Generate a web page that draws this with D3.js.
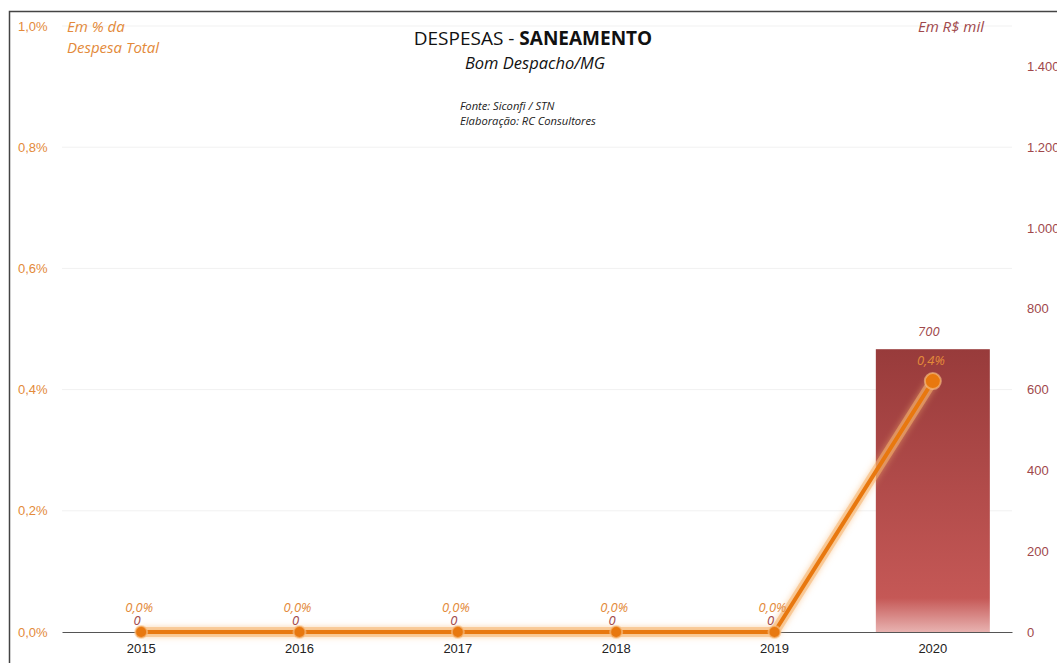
<!DOCTYPE html>
<html>
<head>
<meta charset="utf-8">
<script src="https://cdn.jsdelivr.net/npm/d3@7"></script>
<style>
  body { margin: 0; background: #fff; }
  svg { display: block; font-family: "Open Sans", "Noto Sans", sans-serif; }
</style>
</head>
<body>
<svg id="chart" width="1057" height="663"></svg>
<script>
// data
const years = ["2015", "2016", "2017", "2018", "2019", "2020"];
const despesa = [0, 0, 0, 0, 0, 700];          // R$ mil (bars)
const pctTotal = [0, 0, 0, 0, 0, 0.414];        // % da despesa total (line)
const pctLabels = ["0,0%", "0,0%", "0,0%", "0,0%", "0,0%", "0,4%"];
const leftTicks = [0, 0.2, 0.4, 0.6, 0.8, 1.0];
const rightTicks = [0, 200, 400, 600, 800, 1000, 1200, 1400];

const ORANGE = "#e8780f";
const AXIS_ORANGE = "#e38a3a";
const AXIS_WINE = "#a0484b";

const svg = d3.select("#chart");
const plotL = 62, plotR = 1012, plotT = 26, plotB = 632;

// frame
svg.append("rect")
  .attr("x", 9.5).attr("y", 11.5)
  .attr("width", 1100).attr("height", 700)
  .attr("fill", "none").attr("stroke", "#444").attr("stroke-width", 1.5);

const x = d3.scaleBand().domain(years).range([plotL, plotR]).paddingInner(0.28).paddingOuter(0.14);
const yL = d3.scaleLinear().domain([0, 1.0]).range([plotB, plotT]);
const yR = d3.scaleLinear().domain([0, 1500]).range([plotB, plotT]);

const defs = svg.append("defs");
const grad = defs.append("linearGradient").attr("id", "barGrad")
  .attr("x1", 0).attr("x2", 0).attr("y1", 0).attr("y2", 1);
grad.append("stop").attr("offset", "0%").attr("stop-color", "#983b3b");
grad.append("stop").attr("offset", "88%").attr("stop-color", "#c55856");
grad.append("stop").attr("offset", "100%").attr("stop-color", "#e8b2b0");

const glow = defs.append("filter").attr("id", "glow")
  .attr("x", "-20%").attr("y", "-20%").attr("width", "140%").attr("height", "140%");
glow.append("feGaussianBlur").attr("stdDeviation", 3).attr("result", "b");
const fm = glow.append("feMerge");
fm.append("feMergeNode").attr("in", "b");
fm.append("feMergeNode").attr("in", "SourceGraphic");

// gridlines
svg.append("g")
  .selectAll("line")
  .data(leftTicks.slice(1))
  .join("line")
  .attr("x1", plotL).attr("x2", plotR)
  .attr("y1", d => yL(d)).attr("y2", d => yL(d))
  .attr("stroke", "#f1f1f1").attr("stroke-width", 1);

// left axis
const axL = svg.append("g").attr("transform", `translate(${plotL},0)`)
  .call(d3.axisLeft(yL).tickValues(leftTicks).tickSize(0).tickPadding(14)
    .tickFormat(d => d3.format(".1f")(d).replace(".", ",") + "%"));
axL.select(".domain").remove();
axL.selectAll("text").attr("fill", AXIS_ORANGE).attr("font-size", 13)
  .attr("text-anchor", "start").attr("x", -44);

// right axis
const axR = svg.append("g").attr("transform", `translate(${plotR},0)`)
  .call(d3.axisRight(yR).tickValues(rightTicks).tickSize(0).tickPadding(15)
    .tickFormat(d => d3.format(",")(d).replace(/,/g, ".")));
axR.select(".domain").remove();
axR.selectAll("text").attr("fill", AXIS_WINE).attr("font-size", 13);

// bars
svg.append("g")
  .selectAll("rect")
  .data(years.map((y, i) => ({ y, v: despesa[i] })).filter(d => d.v > 0))
  .join("rect")
  .attr("x", d => x(d.y))
  .attr("width", x.bandwidth())
  .attr("y", d => yR(d.v))
  .attr("height", d => yR(0) - yR(d.v))
  .attr("fill", "url(#barGrad)");

// x axis
const axX = svg.append("g").attr("transform", `translate(0,${plotB})`)
  .call(d3.axisBottom(x).tickSize(0).tickPadding(12));
axX.select(".domain").attr("stroke", "#555").attr("stroke-width", 1.2);
axX.selectAll("text").attr("fill", "#222").attr("font-size", 13);

// line
const pts = years.map((y, i) => ({ y, p: pctTotal[i], i }));
const line = d3.line().x(d => x(d.y) + x.bandwidth() / 2).y(d => yL(d.p));
svg.append("path").datum(pts)
  .attr("d", line)
  .attr("fill", "none").attr("stroke", "#f6b26b").attr("stroke-width", 10)
  .attr("stroke-opacity", 0.55).attr("filter", "url(#glow)");
svg.append("path").datum(pts)
  .attr("d", line)
  .attr("fill", "none").attr("stroke", ORANGE).attr("stroke-width", 4)
  .attr("stroke-linejoin", "round");

svg.append("g").selectAll("circle")
  .data(pts)
  .join("circle")
  .attr("cx", d => x(d.y) + x.bandwidth() / 2)
  .attr("cy", d => yL(d.p))
  .attr("r", d => d.p > 0 ? 8 : 6)
  .attr("fill", ORANGE)
  .attr("stroke", "#f8c48e").attr("stroke-width", 2).attr("stroke-opacity", 0.6);

// value labels (bars)
svg.append("g").selectAll("text")
  .data(years.map((y, i) => ({ y, v: despesa[i] })))
  .join("text")
  .attr("x", d => x(d.y) + x.bandwidth() / 2 - 4)
  .attr("y", d => d.v > 0 ? yR(d.v) - 13 : yR(d.v) - 7)
  .attr("text-anchor", "middle")
  .attr("font-size", 13).attr("font-style", "italic")
  .attr("fill", AXIS_WINE)
  .text(d => d3.format(",")(d.v).replace(/,/g, "."));

// pct labels
svg.append("g").selectAll("text")
  .data(pts)
  .join("text")
  .attr("x", d => x(d.y) + x.bandwidth() / 2 - 2)
  .attr("y", d => d.p > 0 ? yL(d.p) - 16 : yL(d.p) - 20)
  .attr("text-anchor", "middle")
  .attr("font-size", 13).attr("font-style", "italic")
  .attr("fill", AXIS_ORANGE)
  .text(d => pctLabels[d.i]);

// titles
const t = svg.append("text").attr("x", 533).attr("y", 45)
  .attr("text-anchor", "middle").attr("font-size", 19).attr("fill", "#111");
t.append("tspan").text("DESPESAS - ");
t.append("tspan").attr("font-weight", "bold").text("SANEAMENTO");
svg.append("text").attr("x", 535).attr("y", 69).attr("text-anchor", "middle")
  .attr("font-size", 16.5).attr("font-style", "italic").attr("fill", "#111")
  .text("Bom Despacho/MG");
svg.append("text").attr("x", 460).attr("y", 110).attr("font-size", 11.2)
  .attr("font-style", "italic").attr("fill", "#222")
  .text("Fonte: Siconfi  / STN");
svg.append("text").attr("x", 460).attr("y", 125).attr("font-size", 11.2)
  .attr("font-style", "italic").attr("fill", "#222")
  .text("Elaboração: RC Consultores");

svg.append("text").attr("x", 67).attr("y", 32).attr("font-size", 15)
  .attr("font-style", "italic").attr("fill", AXIS_ORANGE).text("Em % da");
svg.append("text").attr("x", 67).attr("y", 53).attr("font-size", 15)
  .attr("font-style", "italic").attr("fill", AXIS_ORANGE).text("Despesa Total");
svg.append("text").attr("x", 984).attr("y", 32).attr("text-anchor", "end").attr("font-size", 15)
  .attr("font-style", "italic").attr("fill", AXIS_WINE).text("Em R$ mil");
</script>
</body>
</html>
